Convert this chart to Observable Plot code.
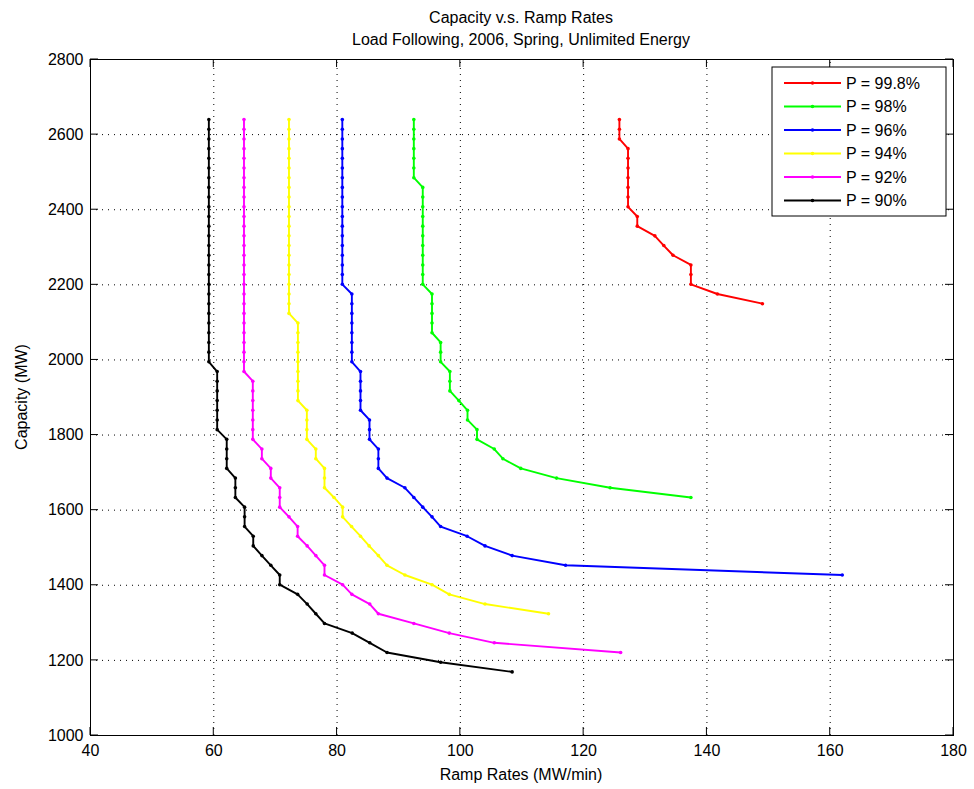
<!DOCTYPE html>
<html>
<head>
<meta charset="utf-8">
<script src="https://cdn.jsdelivr.net/npm/d3@7"></script>
<script src="https://cdn.jsdelivr.net/npm/@observablehq/plot@0.6"></script>
<style>
  body { margin: 0; background: #fff; font-family: "Liberation Sans", Arial, sans-serif; }
</style>
</head>
<body>
<div id="chart"></div>
<script>
// capacity levels (MW), shared by all curves
const levels = [2640, 2614.2, 2588.4, 2562.6, 2536.8, 2511, 2485.2, 2459.4, 2433.6, 2407.8,
  2382, 2356.2, 2330.4, 2304.6, 2278.8, 2253, 2227.2, 2201.4, 2175.6, 2149.8,
  2124, 2098.2, 2072.4, 2046.6, 2020.8, 1995, 1969.2, 1943.4, 1917.6, 1891.8,
  1866, 1840.2, 1814.4, 1788.6, 1762.8, 1737, 1711.2, 1685.4, 1659.6, 1633.8,
  1608, 1582.2, 1556.4, 1530.6, 1504.8, 1479, 1453.2, 1427.4, 1401.6, 1375.8,
  1350, 1324.2, 1298.4, 1272.6, 1246.8, 1221, 1195.2, 1169.4]

// ramp rates (MW/min) per curve, one per capacity level from the top
const p998 = [125.8, 125.8, 125.8, 127.2, 127.2, 127.2, 127.2, 127.2, 127.2, 127.2,
  128.7, 128.7, 131.55, 133.0, 134.5, 137.4, 137.4, 137.4, 141.7, 149.0]
const p98 = [92.45, 92.45, 92.45, 92.45, 92.45, 92.45, 92.45,
  93.9, 93.9, 93.9, 93.9, 93.9, 93.9, 93.9, 93.9, 93.9, 93.9, 93.9,
  95.4, 95.4, 95.4, 95.4, 95.4, 96.8, 96.8, 96.8, 98.3, 98.3, 98.3, 99.75,
  101.16, 101.16, 102.7, 102.7, 105.5, 106.9, 109.8, 115.6, 124.3, 137.4]
const p96 = [80.85, 80.85, 80.85, 80.85, 80.85, 80.85, 80.85, 80.85, 80.85, 80.85,
  80.85, 80.85, 80.85, 80.85, 80.85, 80.85, 80.85, 80.85,
  82.4, 82.4, 82.4, 82.4, 82.4, 82.4, 82.4, 82.4,
  83.8, 83.8, 83.8, 83.8, 83.8, 85.26, 85.26, 85.26, 86.7, 86.7, 86.7, 88.1,
  91.0, 92.45, 93.9, 95.4, 96.8, 101.1, 104.0, 108.4, 117.06, 161.95]
const p94 = [72.2, 72.2, 72.2, 72.2, 72.2, 72.2, 72.2, 72.2, 72.2, 72.2,
  72.2, 72.2, 72.2, 72.2, 72.2, 72.2, 72.2, 72.2, 72.2, 72.2, 72.2,
  73.65, 73.65, 73.65, 73.65, 73.65, 73.65, 73.65, 73.65, 73.65,
  75.1, 75.1, 75.1, 75.1, 76.55, 76.55, 77.96, 77.96, 77.96, 79.5, 80.9, 80.9,
  82.35, 83.8, 85.2, 86.7, 88.1, 91.0, 95.4, 98.2, 104.0, 114.3]
const p92 = [64.9, 64.9, 64.9, 64.9, 64.9, 64.9, 64.9, 64.9, 64.9, 64.9,
  64.9, 64.9, 64.9, 64.9, 64.9, 64.9, 64.9, 64.9, 64.9, 64.9,
  64.9, 64.9, 64.9, 64.9, 64.9, 64.9, 64.9,
  66.33, 66.33, 66.33, 66.33, 66.33, 66.33, 66.33, 67.8, 67.8, 69.25, 69.25,
  70.7, 70.7, 70.7, 72.2, 73.6, 73.6, 75.15, 76.55, 77.96, 77.96,
  80.9, 82.4, 85.3, 86.7, 92.45, 98.2, 105.5, 126.0]
const p90 = [59.2, 59.2, 59.2, 59.2, 59.2, 59.2, 59.2, 59.2, 59.2, 59.2,
  59.2, 59.2, 59.2, 59.2, 59.2, 59.2, 59.2, 59.2, 59.2, 59.2,
  59.2, 59.2, 59.2, 59.2, 59.2, 59.2,
  60.55, 60.55, 60.55, 60.55, 60.55, 60.55, 60.55, 62.1, 62.1, 62.1, 62.1,
  63.5, 63.5, 63.5, 65.0, 65.0, 65.0, 66.4, 66.4, 67.8, 69.25, 70.7, 70.7,
  73.6, 75.15, 76.55, 77.96, 82.45, 85.3, 88.1, 96.8, 108.4]

const seriesNames = ["P = 99.8%", "P = 98%", "P = 96%", "P = 94%", "P = 92%", "P = 90%"]
const seriesColors = ["#ff0000", "#00ff00", "#0000ff", "#ffff00", "#ff00ff", "#000000"]
const seriesValues = [p998, p98, p96, p94, p92, p90]
const xTicks = [40, 60, 80, 100, 120, 140, 160, 180]
const yTicks = [1000, 1200, 1400, 1600, 1800, 2000, 2200, 2400, 2600, 2800]

const rows = seriesValues.flatMap((vals, s) =>
  vals.map((v, i) => ({serie: seriesNames[s], ramp: v, cap: levels[i]})))

const W = 974, H = 789
const mL = 90, mR = 21, mT = 59, mB = 54

const chart = Plot.plot({
  width: W, height: H,
  marginLeft: mL, marginRight: mR, marginTop: mT, marginBottom: mB,
  style: {fontFamily: "Liberation Sans, Arial, sans-serif", fontSize: "16px", color: "#000"},
  x: {domain: [40, 180], ticks: xTicks, tickSize: 0, tickPadding: 9, tickFormat: "d", label: null},
  y: {domain: [1000, 2800], ticks: yTicks, tickSize: 0, tickPadding: 7, tickFormat: "d", label: null},
  color: {domain: seriesNames, range: seriesColors},
  marks: [
    Plot.ruleX(xTicks.slice(1, -1), {y1: 1000, y2: 2800, stroke: "#000", strokeDasharray: "1,5", strokeWidth: 1}),
    Plot.ruleY(yTicks.slice(1, -1), {x1: 40, x2: 180, stroke: "#000", strokeDasharray: "1,5", strokeWidth: 1}),
    Plot.line(rows, {x: "ramp", y: "cap", z: "serie", stroke: "serie", strokeWidth: 1.9}),
    Plot.dot(rows, {x: "ramp", y: "cap", fill: "serie", r: 1.8}),
    Plot.frame({stroke: "#000", strokeWidth: 1})
  ]
})

d3.select('#chart').append(() => chart)

const svg = d3.select(chart)
// inward tick marks like the original
const xs = chart.scale("x"), ys = chart.scale("y")
xTicks.forEach(t => {
  const px = xs.apply(t)
  svg.append("line").attr("x1", px).attr("x2", px).attr("y1", H - mB).attr("y2", H - mB - 8).attr("stroke", "#000")
  svg.append("line").attr("x1", px).attr("x2", px).attr("y1", mT).attr("y2", mT + 8).attr("stroke", "#000")
})
yTicks.forEach(t => {
  const py = ys.apply(t)
  svg.append("line").attr("x1", mL).attr("x2", mL + 8).attr("y1", py).attr("y2", py).attr("stroke", "#000")
  svg.append("line").attr("x1", W - mR).attr("x2", W - mR - 8).attr("y1", py).attr("y2", py).attr("stroke", "#000")
})

// titles
const txt = (x, y, s) => svg.append("text").attr("x", x).attr("y", y).attr("text-anchor", "middle")
  .style("font-size", "16px").attr("fill", "#000").text(s)
txt(521, 23, "Capacity v.s. Ramp Rates")
txt(521, 45, "Load Following, 2006, Spring, Unlimited Energy")
txt(521, 780, "Ramp Rates (MW/min)")
svg.append("text").attr("transform", "translate(27,397) rotate(-90)").attr("text-anchor", "middle")
  .style("font-size", "16px").text("Capacity (MW)")

// legend
const lg = svg.append("g")
lg.append("rect").attr("x", 772).attr("y", 67).attr("width", 174).attr("height", 149)
  .attr("fill", "#fff").attr("stroke", "#000")
seriesNames.forEach((n, i) => {
  const yy = 83 + i * 23.5
  lg.append("line").attr("x1", 784).attr("x2", 841).attr("y1", yy).attr("y2", yy)
    .attr("stroke", seriesColors[i]).attr("stroke-width", 1.9)
  lg.append("circle").attr("cx", 812.5).attr("cy", yy).attr("r", 1.8).attr("fill", seriesColors[i])
  lg.append("text").attr("x", 846).attr("y", yy + 5.5).attr("text-anchor", "start")
    .style("font-size", "16px").text(n)
})
</script>
</body>
</html>
